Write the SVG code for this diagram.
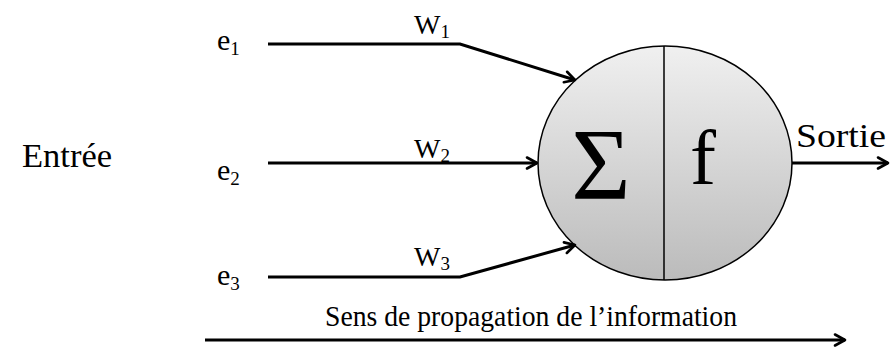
<svg xmlns="http://www.w3.org/2000/svg" width="890" height="352" viewBox="0 0 890 352">
<defs>
<linearGradient id="g" x1="0" y1="0" x2="0" y2="1">
<stop offset="0" stop-color="#f0f0f0"/>
<stop offset="1" stop-color="#bbbbbb"/>
</linearGradient>
<marker id="arr" markerUnits="userSpaceOnUse" markerWidth="16" markerHeight="16" refX="12" refY="7" orient="auto" viewBox="0 0 16 14">
<path d="M2,1.5 L12,7 L2,12.5" fill="none" stroke="#000" stroke-width="2.6" stroke-linecap="round" stroke-linejoin="round"/>
</marker>
<style>
text{font-family:"Liberation Serif","Times New Roman",serif;fill:#000}
.lbl{font-size:34px}
.in{font-size:30px}
.w{font-size:28px}
.sub{font-size:19px}
.conn{fill:none;stroke:#000;stroke-width:3;marker-end:url(#arr)}
</style>
</defs>
<g id="entree"><text class="lbl" x="22" y="167" textLength="90" lengthAdjust="spacingAndGlyphs">Entrée</text></g>
<g id="e1"><text class="in" x="217" y="50">e<tspan class="sub" dy="5">1</tspan></text></g>
<g id="e2"><text class="in" x="217" y="180">e<tspan class="sub" dy="5">2</tspan></text></g>
<g id="e3"><text class="in" x="217" y="285">e<tspan class="sub" dy="5">3</tspan></text></g>
<g id="neuron">
<ellipse cx="665" cy="163" rx="127" ry="117" fill="url(#g)" stroke="#000" stroke-width="1.5"/>
<line x1="664" y1="46" x2="664" y2="280" stroke="#000" stroke-width="1.5"/>
<text x="601" y="199" font-size="102" text-anchor="middle">Σ</text>
<text x="703" y="184" font-size="78" text-anchor="middle">f</text>
</g>
<g id="sortie"><text class="lbl" x="796" y="147" textLength="90" lengthAdjust="spacingAndGlyphs">Sortie</text></g>
<g id="connectors">
<path class="conn" d="M268,44 H460 L575,80"/>
<path class="conn" d="M268,163 H537"/>
<path class="conn" d="M268,277 H460 L575,245"/>
<path class="conn" d="M792,163 H888"/>
<path class="conn" d="M205,340 H845"/>
<text class="w" x="414" y="34">W<tspan class="sub" dy="4">1</tspan></text>
<text class="w" x="414" y="158">W<tspan class="sub" dy="4">2</tspan></text>
<text class="w" x="414" y="266">W<tspan class="sub" dy="4">3</tspan></text>
<text x="325" y="326" font-size="29" textLength="412" lengthAdjust="spacingAndGlyphs">Sens de propagation de l’information</text>
</g>
</svg>
